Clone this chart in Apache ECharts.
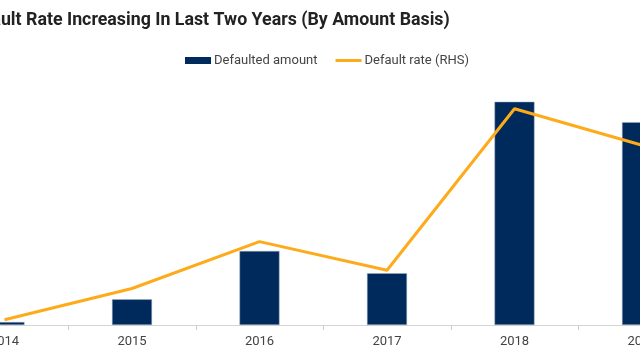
<!DOCTYPE html>
<html>
<head>
<meta charset="utf-8">
<script src="https://cdn.jsdelivr.net/npm/echarts@6/dist/echarts.min.js"></script>
<style>html,body{margin:0;padding:0;background:#fff}#c{width:640px;height:360px}</style>
</head>
<body>
<div id="c"></div>
<script>
const titleText = 'Default Rate Increasing In Last Two Years (By Amount Basis)';
const categories = ['2014', '2015', '2016', '2017', '2018', '2019'];
const defaultedAmount = [1.6, 13.8, 39.8, 27.8, 120, 109];
const defaultRate = [0.02, 0.14, 0.32, 0.21, 0.83, 0.69];

// fit title font so the visible part spans like the reference (cropped on the left)
const cv = document.createElement('canvas').getContext('2d');
const fam = 'Roboto';
cv.font = 'bold 16px ' + fam;
const wRest = cv.measureText('Rate Increasing In Last Two Years (By Amount Basis)').width;
const fs = 16 * 424 / wRest;
cv.font = 'bold ' + fs + 'px ' + fam;
const wPre = cv.measureText('Default ').width;
const titleLeft = 21 - wPre;

const chart = echarts.init(document.getElementById('c'), null, {renderer: 'canvas'});
chart.setOption({
  animation: false,
  title: {
    text: titleText,
    left: titleLeft,
    top: 7,
    textStyle: {fontFamily: fam, fontWeight: 'bold', fontSize: fs, color: '#222'}
  },
  legend: {
    top: 49,
    left: 180,
    itemWidth: 26,
    itemHeight: 7,
    itemGap: 18,
    textStyle: {fontFamily: fam, fontSize: 13, color: '#444', padding: [0, 0, 0, -2]},
    data: [
      {name: 'Defaulted amount', icon: 'rect', itemStyle: {borderWidth: 0, color: '#002a5c'}},
      {name: 'Default rate (RHS)', icon: 'path://M0,0L26,0L26,3L0,3Z', itemStyle: {borderWidth: 0, color: '#fdab1a'}}
    ]
  },
  grid: {left: -59.25, right: -65.75, top: 64.5, bottom: 35, containLabel: false, outerBoundsMode: 'none'},
  xAxis: {
    type: 'category',
    data: categories,
    axisLine: {lineStyle: {color: '#d4d4d4', width: 1}},
    axisTick: {show: true, length: 5, lineStyle: {color: '#cccccc'}},
    axisLabel: {fontFamily: fam, fontSize: 13, color: '#444', margin: 10}
  },
  yAxis: [
    {type: 'value', min: 0, max: 140, show: false, splitLine: {show: false}},
    {type: 'value', min: 0, max: 1, show: false, splitLine: {show: false}}
  ],
  series: [
    {
      name: 'Defaulted amount',
      type: 'bar',
      data: defaultedAmount,
      barWidth: 40,
      yAxisIndex: 0,
      itemStyle: {color: '#002a5c', borderColor: '#9fb0c6', borderWidth: 0.5}
    },
    {
      name: 'Default rate (RHS)',
      type: 'line',
      data: defaultRate,
      yAxisIndex: 1,
      symbol: 'none',
      lineStyle: {color: '#fdab1a', width: 3},
      itemStyle: {color: '#fdab1a'}
    }
  ]
});
</script>
</body>
</html>
